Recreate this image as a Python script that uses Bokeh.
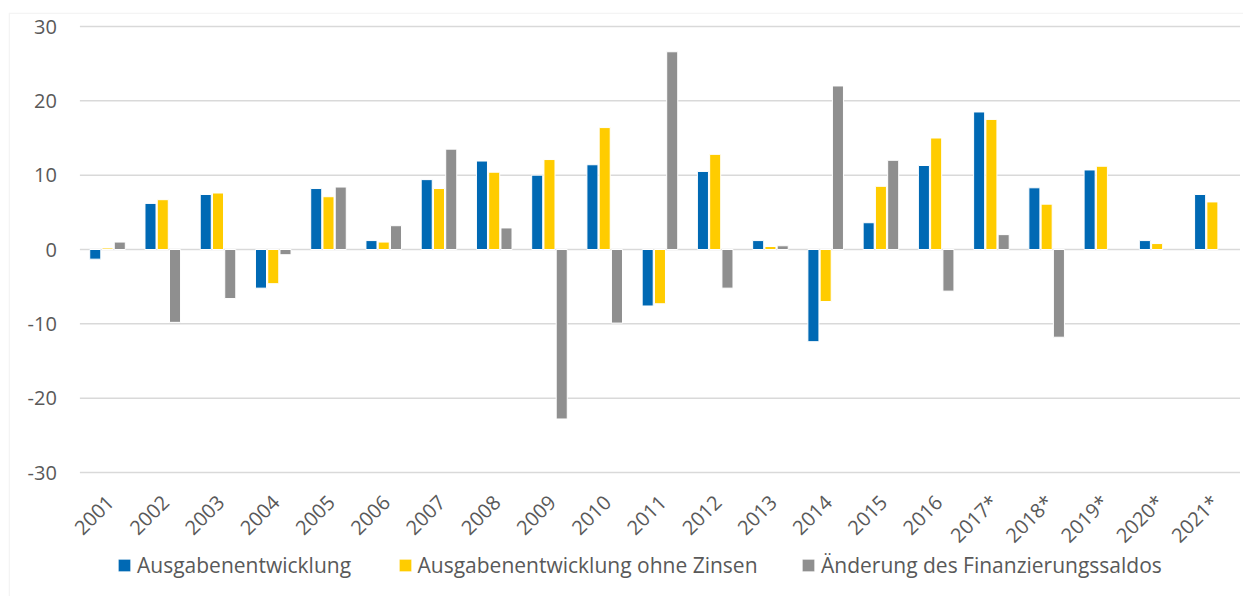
from bokeh.plotting import figure
from bokeh.models import (Range1d, FixedTicker, Legend, LegendItem, LinearAxis,
                          BoxAnnotation, ColumnDataSource)
from bokeh.transform import dodge
from bokeh.embed import file_html
from bokeh.resources import INLINE

NaN = float("nan")

categories = ["2001", "2002", "2003", "2004", "2005", "2006", "2007", "2008", "2009", "2010",
              "2011", "2012", "2013", "2014", "2015", "2016", "2017*", "2018*", "2019*",
              "2020*", "2021*"]
ausgaben = [-1.3, 6.2, 7.4, -5.2, 8.2, 1.2, 9.4, 11.9, 10.0, 11.4,
            -7.6, 10.5, 1.2, -12.4, 3.6, 11.3, 18.5, 8.3, 10.7, 1.2, 7.4]
ohne_zinsen = [0.2, 6.7, 7.6, -4.6, 7.1, 1.0, 8.2, 10.4, 12.1, 16.4,
               -7.3, 12.8, 0.4, -7.0, 8.5, 15.0, 17.5, 6.1, 11.2, 0.8, 6.4]
saldo = [1.0, -9.8, -6.6, -0.7, 8.4, 3.2, 13.5, 2.9, -22.8, -9.9,
         26.6, -5.2, 0.5, 22.0, 12.0, -5.6, 2.0, -11.8, NaN, NaN, NaN]
series_names = ["Ausgabenentwicklung", "Ausgabenentwicklung ohne Zinsen",
                "Änderung des Finanzierungssaldos"]
y_ticks = [-30, -20, -10, 0, 10, 20, 30]
y_tick_labels = ["-30", "-20", "-10", "0", "10", "20", "30"]

colors = ["#0069B4", "#FFCC00", "#8F8F8F"]
FONT = "Open Sans"
TXT = "#595959"
W, H = 1243, 596

# layout (pixels): chart area box starts at (8, 12); plot area inside it
box_left, box_top = 8, 12
pa_left, pa_right, pa_top, pa_bottom = 79.4, 1239.5, 26, 472
n = len(categories)
ux = (pa_right - pa_left) / n
uy = (pa_bottom - pa_top) / (y_ticks[-1] - y_ticks[0])
x_lo, x_hi = -0.5, n - 0.5
x_start = x_lo - (pa_left - box_left) / ux
x_end = x_hi + (W - pa_right) / ux
y_start = y_ticks[0] - (H - pa_bottom) / uy
y_end = y_ticks[-1] + (pa_top - box_top) / uy

xs = list(range(n))
src = ColumnDataSource(dict(x=xs, a=ausgaben, b=ohne_zinsen, c=saldo))

p = figure(width=W, height=H, x_range=Range1d(x_start, x_end),
           y_range=Range1d(y_start, y_end), output_backend="svg", toolbar_location=None,
           x_axis_location=None, y_axis_location=None,
           min_border_left=box_left, min_border_right=0, min_border_top=box_top,
           min_border_bottom=0)
p.outline_line_color = None
p.xgrid.visible = False
p.ygrid.visible = False

# horizontal gridlines at the value-axis ticks
p.segment(x0=[x_lo] * len(y_ticks), x1=[x_hi] * len(y_ticks), y0=y_ticks, y1=y_ticks,
          line_color="#D9D9D9", line_width=1.5)

step = 0.222
renderers = []
for i, (col, c) in enumerate(zip(["a", "b", "c"], colors)):
    r = p.vbar(x=dodge("x", (i - 1) * step), top=col, bottom=0,
               width=0.2, source=src, fill_color=c, line_color="white", line_width=1)
    renderers.append(r)

# category labels: rotated text ends at the right of each category centre
label_shift = 0.045
x_tick_pos = [i + label_shift for i in xs]

yax = LinearAxis(ticker=FixedTicker(ticks=y_ticks), fixed_location=x_lo,
                 major_label_overrides={t: s for t, s in zip(y_ticks, y_tick_labels)})
xax = LinearAxis(ticker=FixedTicker(ticks=x_tick_pos), fixed_location=y_ticks[0],
                 major_label_overrides={t: c for t, c in zip(x_tick_pos, categories)})
for ax in (xax, yax):
    ax.axis_line_color = None
    ax.major_tick_line_color = None
    ax.minor_tick_line_color = None
    ax.major_label_text_font = FONT
    ax.major_label_text_color = TXT
    ax.major_label_text_font_size = "20px"
yax.major_label_standoff = 17
xax.major_label_orientation = 0.7854
xax.major_label_standoff = 20
p.add_layout(yax, "left")
p.add_layout(xax, "below")

legend_x = [116, 396.5, 800]
for name, r, lx in zip(series_names, renderers, legend_x):
    lg = Legend(items=[LegendItem(label=name, renderers=[r])],
                location=(lx - box_left, H - 579),
                orientation="horizontal", margin=0, padding=0,
                border_line_color=None, background_fill_alpha=0,
                glyph_width=16, glyph_height=16, label_height=28, label_standoff=5,
                label_text_font=FONT, label_text_color=TXT,
                label_text_font_size="21px")
    p.add_layout(lg, "center")

border = BoxAnnotation(left=box_left + 0.75, right=5000, top=box_top + 0.75, bottom=5000,
                       left_units="canvas", right_units="canvas",
                       top_units="canvas", bottom_units="canvas",
                       fill_alpha=0, line_color="#D9D9D9", line_width=1.5)
p.add_layout(border)

open("out.html", "w").write(file_html(p, INLINE))
